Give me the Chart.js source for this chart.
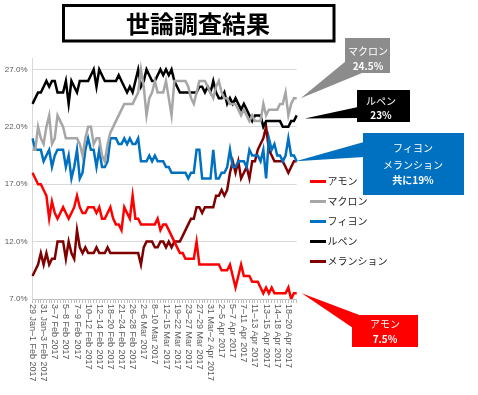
<!DOCTYPE html>
<html><head><meta charset="utf-8">
<script src="https://cdn.jsdelivr.net/npm/chart.js@4"></script>
<style>html,body{margin:0;padding:0;background:#fff;}#wrap{width:478px;height:395px;position:relative;}</style>
</head><body><div id="wrap"><canvas id="c" width="478" height="395"></canvas></div>
<script>
const tickLabels = ['29 Jan–1 Feb 2017','31 Jan–3 Feb 2017','3–7 Feb 2017','5–8 Feb 2017','7–9 Feb 2017','10–12 Feb 2017','12–14 Feb 2017','18–20 Feb 2017','21–24 Feb 2017','26–28 Feb 2017','2–6 Mar 2017','8–10 Mar 2017','12–15 Mar 2017','19–22 Mar 2017','23–27 Mar 2017','27–29 Mar 2017','31 Mar–2 Apr 2017','2–5 Apr 2017','5–7 Apr 2017','7–11 Apr 2017','11–13 Apr 2017','13–15 Apr 2017','14–18 Apr 2017','18–20 Apr 2017'];
const seriesNames = ['アモン','マクロン','フィヨン','ルペン','メランション'];
const seriesColors = ['#FF0000','#A6A6A6','#0070C0','#000000','#7F0000'];
const hamon = [18,17.5,17,17,16.5,16,14,15.5,14.5,14, 14.5,15,14.5,14,14.5,15,16,15,14.5,14.5, 15,15,15,14.5,15,14,14,14.5,15,14, 13.5,13.5,13,15,14.5,14,16,14,14,13.5, 13.5,13.5,13.5,13.5,13.5,14,13,13.5,13.5,13, 12.5,12,11.5,11,11,10.5,10.5,10.5,10.5,12, 10,10,10,10,10,10,10,10,9.5,9.5, 9.5,10,9,8,9,10,9,9,9,8.5, 8.5,8.5,8,7.5,8,7.5,8,7.5,7.5,7.5, 7.5,7.5,8,7,7.5,7.5];
const macron = [20,20,22,21,20.5,22,23,20.5,21,23, 22.5,22,21,21,21,21,21,20.5,19.5,21, 22,22,20.5,21,21,19.5,19,20.5,21.5,22, 22.5,23,23.5,24,24,24,24,24.5,25,27, 25.5,23,24.5,25,26,25,25,25,26,24.5, 23,26,26,26,26,26,25.5,24.5,24,25, 26,26,26,25.5,25,24.5,25.5,26,25,24.5, 24.5,24,24,24,23.5,23,23.5,23,22.5,23, 22.5,22.5,22.5,24,23,23.5,23.5,23.5,23.5,24, 24,25,23,24,24.5,24.5];
const fillon = [21,20,20,20,19,19.5,20,18.5,19.5,20, 20,20,18.5,19.5,17.5,18.5,20,17.5,18,20, 21,20,20,18.5,20,18.5,18.5,19,21,21, 21,20.5,20.5,21,20.5,21,20.5,20.5,21,19, 19,19,19.5,19,19.5,19,19,19,18.5,18.5, 18,18,18,18,18,18,17.5,18,18,20, 20,17.5,17.5,17.5,17.5,20,17.5,17.5,18,18, 18.5,20,18.5,18.5,19,19,19,18.5,20,19.5, 19.5,19.5,19,20,17.5,21,20,20.5,19.5,19.5, 19,19.5,21,19.5,19.5,19];
const lepen = [24,24.5,25,25,25.5,26,25.5,26,26,25, 25,25,26,24,26,25.5,25,26,26,26, 26,26.5,27,25.5,27,26.5,26,26,26,26, 26,26.5,26,25.5,25,25.5,25,26,27,25.5, 26,27,26.5,26,26,26.5,27,26.5,27,26.5, 27,26,25.5,25,25,25,25,25,25,25, 25.5,25.5,25,25.5,25,26,25,24.5,24.5,25, 24,24.5,24,24.5,24,23.5,24,23.5,23,22.5, 23,23,23,22,22.5,22.5,22.5,22.5,22.5,22.5, 22,22,22,22.5,22.5,23];
const melenchon = [9,9.5,10,11,10,11,10,10.5,10.5,12, 12,12,10.5,12,11,10.5,13,11.5,11,11.5, 11,11,11,11.5,11,11,11,11.5,11,11, 11,11,11,11,11,11,11,11,11,10, 11.5,12,12,12,11.5,11.5,12,12,11.5,12, 11.5,12,12,12,12.5,13,13.5,14,14,15, 15,14.5,15,15,15,15,16,16,16.5,16, 16.5,18,19,18,19,17.5,18,18.5,17.5,19, 19,20,20.5,21,22,20,19.5,19,19,19, 19,18.5,18,18.5,19,19];
const seriesValues = [hamon, macron, fillon, lepen, melenchon];
const yTicks = [7,12,17,22,27];
const yMin = 7, yMax = 28;
const titleText = '世論調査結果';
const calloutMacron = ['マクロン','24.5%'];
const calloutLepen = ['ルペン','23%'];
const calloutFM = ['フィヨン','メランション','共に19%'];
const calloutHamon = ['アモン','7.5%'];

const labelEvery = 4;
const categories = hamon.map((_, i) => (i % labelEvery === 0 && tickLabels[i / labelEvery]) ? tickLabels[i / labelEvery] : '');

const JP = '"Noto Sans CJK JP", sans-serif';
const LAT = '"Liberation Sans", Arial, sans-serif';

const overlay = {
  id: 'overlay',
  afterDraw(chart) {
    const ctx = chart.ctx;
    const xs = chart.scales.x, ys = chart.scales.y;
    const ca = chart.chartArea;
    ctx.save();
    // x tick labels, rotated +90 (top to bottom)
    ctx.fillStyle = '#595959';
    ctx.font = '9px ' + LAT;
    ctx.textAlign = 'left';
    ctx.textBaseline = 'middle';
    categories.forEach((lab, i) => {
      if (!lab) return;
      const x = xs.getPixelForValue(i);
      ctx.save();
      ctx.translate(x, ca.bottom + 5);
      ctx.rotate(Math.PI / 2);
      ctx.fillText(lab, 0, 0);
      ctx.restore();
    });
    // title box
    ctx.lineWidth = 3;
    ctx.strokeStyle = '#000';
    ctx.strokeRect(63.5, 5.5, 270.5, 35.5);
    ctx.fillStyle = '#000';
    ctx.font = 'bold 24px ' + JP;
    ctx.textAlign = 'center';
    ctx.textBaseline = 'middle';
    ctx.fillText(titleText, 198, 23.5);
    // legend
    ctx.textAlign = 'left';
    ctx.font = '10px ' + JP;
    seriesNames.forEach((n, k) => {
      const y = 181.5 + k * 20;
      ctx.strokeStyle = seriesColors[k];
      ctx.lineWidth = 3;
      ctx.beginPath(); ctx.moveTo(310, y); ctx.lineTo(326, y); ctx.stroke();
      ctx.fillStyle = '#262626';
      ctx.fillText(n, 327.5, y);
    });
    const last = hamon.length - 1;
    const xl = xs.getPixelForValue(last);
    function callout(color, tip, p1, p2, box, lines, cx, ly) {
      ctx.fillStyle = color;
      ctx.beginPath(); ctx.moveTo(tip[0], tip[1]); ctx.lineTo(p1[0], p1[1]); ctx.lineTo(p2[0], p2[1]); ctx.closePath(); ctx.fill();
      ctx.fillRect(box[0], box[1], box[2], box[3]);
      ctx.fillStyle = '#fff';
      ctx.textAlign = 'center';
      ctx.textBaseline = 'middle';
      lines.forEach((t, j) => {
        const bold = /[0-9]/.test(t);
        ctx.font = (bold ? 'bold 10px ' : '10px ') + JP;
        ctx.fillText(t, cx, ly[j]);
      });
    }
    callout('#8C8C8C', [xl + 4, ys.getPixelForValue(macron[last])], [346, 61], [362, 73], [345, 38, 45, 35], calloutMacron, 368, [51.5, 66.5]);
    callout('#000000', [xl + 8, ys.getPixelForValue(lepen[last]) + 3], [358, 107], [358, 118], [357, 90, 53, 32], calloutLepen, 381, [101, 115]);
    callout('#0070C0', [xl - 1, ys.getPixelForValue(fillon[last])], [364, 142], [364, 157], [363, 133, 101, 62], calloutFM, 413, [148.5, 165, 180.5]);
    callout('#FF0000', [xl + 5, ys.getPixelForValue(hamon[last])], [362, 316], [353, 328], [352, 315, 66, 32], calloutHamon, 385, [324, 339.5]);
    ctx.restore();
  }
};

new Chart(document.getElementById('c'), {
  type: 'line',
  data: {
    labels: categories,
    datasets: seriesNames.map((n, k) => ({
      label: n,
      data: seriesValues[k],
      borderColor: seriesColors[k],
      backgroundColor: seriesColors[k],
      borderWidth: 2.5,
      pointRadius: 0,
      tension: 0,
      fill: false
    }))
  },
  options: {
    responsive: false,
    animation: false,
    devicePixelRatio: 1,
    layout: { padding: { left: 0, right: 181.3, top: 58, bottom: 92 } },
    plugins: { legend: { display: false }, tooltip: { enabled: false }, title: { display: false } },
    scales: {
      x: {
        type: 'category',
        offset: false,
        ticks: { display: false, autoSkip: false },
        grid: { drawOnChartArea: false, drawTicks: true, tickLength: 4, color: '#BFBFBF' },
        border: { color: '#BFBFBF' },
        afterFit(s) { s.height = 4; }
      },
      y: {
        min: yMin, max: yMax,
        afterBuildTicks(s) { s.ticks = yTicks.map(v => ({ value: v })); },
        ticks: { callback: v => Number(v).toFixed(1) + '%', font: { size: 8, family: LAT }, color: '#595959', padding: 5 },
        grid: { color: '#D9D9D9', drawTicks: false },
        border: { color: '#D9D9D9' },
        afterFit(s) { s.width = 32.5; }
      }
    }
  },
  plugins: [overlay]
});
</script></body></html>
